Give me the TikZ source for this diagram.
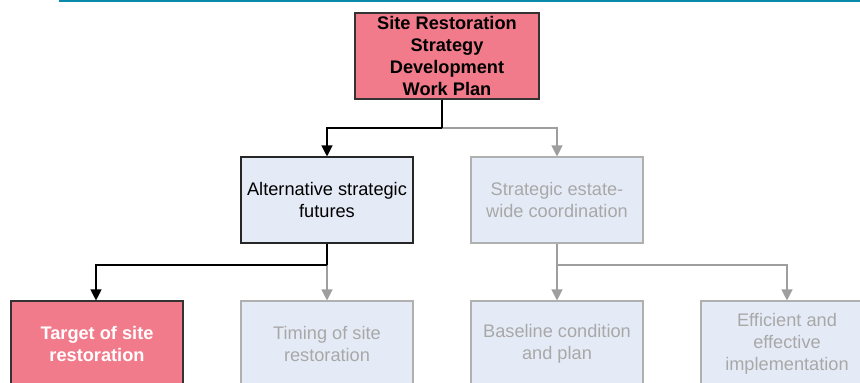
\documentclass[tikz,border=0pt]{standalone}
\usepackage{fontspec}
\setmainfont{Liberation Sans}
\usetikzlibrary{arrows.meta}
\definecolor{pinkfill}{HTML}{F27B8B}
\definecolor{bluefill}{HTML}{E5EBF6}
\definecolor{greytxt}{HTML}{A8A8A8}
\definecolor{greyline}{HTML}{9E9E9E}
\definecolor{greyedge}{HTML}{B0B0B0}
\definecolor{topteal}{HTML}{0A8AAA}
\tikzset{
  box/.style={rectangle, minimum width=172pt, minimum height=86pt, inner sep=2pt,
    align=center, font=\fontsize{18.2}{21.8}\selectfont, line width=1.1pt},
  activebox/.style={box, draw=black!85, fill=bluefill, text=black},
  dimbox/.style={box, draw=greyedge, fill=bluefill, text=greytxt},
  pinkbox/.style={box, draw=black!80, fill=pinkfill, font=\fontsize{18.2}{21.8}\selectfont\bfseries},
  blkline/.style={draw=black, line width=1.2pt},
  blkarrow/.style={blkline, -{Triangle[length=11pt,width=11pt]}},
  gryline/.style={draw=greyline, line width=1.2pt},
  gryarrow/.style={gryline, -{Triangle[length=11pt,width=11pt]}}
}
\begin{document}
\begin{tikzpicture}[x=1pt,y=-1pt]
\useasboundingbox (0,0) rectangle (860,383);
\draw[topteal, line width=1.6pt] (59,1) -- (860,1);

\node[pinkbox, minimum width=184pt, text=black] (top) at (447,56)
  {Site Restoration\\Strategy\\Development\\Work Plan};
\node[activebox] (alt) at (327,200) {Alternative strategic\\futures};
\node[dimbox] (strat) at (557,200) {Strategic estate-\\wide coordination};
\node[pinkbox, text=white] (target) at (97,344) {Target of site\\restoration};
\node[dimbox] (timing) at (327,344) {Timing of site\\restoration};
\node[dimbox] (base) at (557,344) {Baseline condition\\and plan};
\node[dimbox] (eff) at (787,344) {Efficient and\\effective\\implementation};

\coordinate (j1) at (442,128);
\coordinate (j2) at (327,265);
\coordinate (j3) at (557,265);

\draw[gryarrow] (j1) -| (strat.north);
\draw[blkline] ([xshift=-5pt]top.south) -- (j1);
\draw[blkarrow] (j1) -| (alt.north);

\draw[gryarrow] (j2) -- (timing.north);
\draw[blkline] (alt.south) -- (j2);
\draw[blkarrow] (j2) -| ([xshift=-1pt]target.north);

\draw[gryline] (strat.south) -- (j3);
\draw[gryarrow] (j3) -- (base.north);
\draw[gryarrow] (j3) -| (eff.north);
\end{tikzpicture}
\end{document}
